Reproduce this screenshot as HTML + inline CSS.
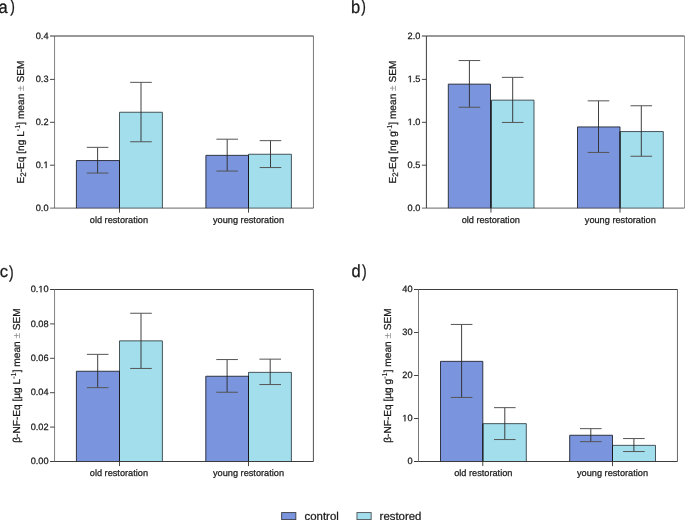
<!DOCTYPE html>
<html><head><meta charset="utf-8"><style>
html,body{margin:0;padding:0;background:#fff;overflow:hidden;}
svg{display:block;will-change:transform;}
text{font-family:"Liberation Sans", sans-serif;fill:#1a1a1a;stroke:#1a1a1a;stroke-width:0.25px;text-rendering:geometricPrecision;}
</style></head><body>
<svg width="685" height="520" viewBox="0 0 685 520">
<rect width="685" height="520" fill="#fff"/>
<rect x="76.40" y="160.55" width="43.10" height="47.65" fill="#7a94de"/>
<rect x="119.50" y="112.25" width="42.90" height="95.95" fill="#a3deed"/>
<path d="M76.40,208.20V160.55H119.50V208.20" fill="none" stroke="#23252f" stroke-width="0.9"/>
<path d="M119.50,208.20V112.25H162.40V208.20" fill="none" stroke="#2e3a3e" stroke-width="0.85"/>
<line x1="119.50" y1="160.55" x2="119.50" y2="208.20" stroke="#111" stroke-width="0.8"/>
<rect x="205.90" y="155.35" width="42.60" height="52.85" fill="#7a94de"/>
<rect x="248.50" y="154.25" width="42.90" height="53.95" fill="#a3deed"/>
<path d="M205.90,208.20V155.35H248.50V208.20" fill="none" stroke="#23252f" stroke-width="0.9"/>
<path d="M248.50,208.20V154.25H291.40V208.20" fill="none" stroke="#2e3a3e" stroke-width="0.85"/>
<line x1="248.50" y1="155.35" x2="248.50" y2="208.20" stroke="#111" stroke-width="0.8"/>
<line x1="97.60" y1="147.35" x2="97.60" y2="173.05" stroke="#2a2a2a" stroke-width="0.9"/>
<path d="M86.80,147.35H108.40M86.80,173.05H108.40" stroke="#555" stroke-width="1"/>
<line x1="141.00" y1="82.35" x2="141.00" y2="141.75" stroke="#2a2a2a" stroke-width="0.9"/>
<path d="M130.20,82.35H151.80M130.20,141.75H151.80" stroke="#555" stroke-width="1"/>
<line x1="227.20" y1="139.20" x2="227.20" y2="171.05" stroke="#2a2a2a" stroke-width="0.9"/>
<path d="M216.40,139.20H238.00M216.40,171.05H238.00" stroke="#555" stroke-width="1"/>
<line x1="270.50" y1="140.65" x2="270.50" y2="167.55" stroke="#2a2a2a" stroke-width="0.9"/>
<path d="M259.70,140.65H281.30M259.70,167.55H281.30" stroke="#555" stroke-width="1"/>
<line x1="54.55" y1="36.0" x2="54.55" y2="208.1" stroke="#333" stroke-width="0.62"/>
<line x1="313.45" y1="36.0" x2="313.45" y2="208.1" stroke="#333" stroke-width="0.66"/>
<line x1="54.55" y1="36.0" x2="313.45" y2="36.0" stroke="#333" stroke-width="1.0"/>
<line x1="54.55" y1="208.1" x2="313.45" y2="208.1" stroke="#333" stroke-width="0.75"/>
<line x1="50.05" y1="208.10" x2="54.55" y2="208.10" stroke="#333" stroke-width="0.75"/>
<text x="35.76" y="210.85" font-size="9.2">0.0</text>
<line x1="50.05" y1="165.20" x2="54.55" y2="165.20" stroke="#333" stroke-width="0.9"/>
<text x="35.76" y="167.95" font-size="9.2">0.</text>
<path transform="translate(43.43,167.95) scale(0.004492,-0.004492)" d="M515,0L515,1237L197,1010L197,1180L530,1409L696,1409L696,0Z" fill="#1a1a1a" stroke="#1a1a1a" stroke-width="55.7"/>
<line x1="50.05" y1="122.30" x2="54.55" y2="122.30" stroke="#333" stroke-width="0.9"/>
<text x="35.76" y="125.05" font-size="9.2">0.2</text>
<line x1="50.05" y1="79.40" x2="54.55" y2="79.40" stroke="#333" stroke-width="0.9"/>
<text x="35.76" y="82.15" font-size="9.2">0.3</text>
<line x1="50.05" y1="36.00" x2="54.55" y2="36.00" stroke="#333" stroke-width="1.0"/>
<text x="35.76" y="38.75" font-size="9.2">0.4</text>
<line x1="119.50" y1="208.1" x2="119.50" y2="212.70" stroke="#333" stroke-width="0.9"/>
<line x1="248.50" y1="208.1" x2="248.50" y2="212.70" stroke="#333" stroke-width="0.9"/>
<text x="118.90" y="222.70" text-anchor="middle" font-size="9.2">old restoration</text>
<text x="248.50" y="222.70" text-anchor="middle" font-size="9.2">young restoration</text>
<text transform="translate(24.2,122.05) rotate(-90)" text-anchor="middle" font-size="10.15">E<tspan font-size="8" dy="2.1">2</tspan><tspan dy="-2.1">-Eq</tspan> [ng L<tspan font-size="7.3" dy="-3.9" stroke-width="0.1">-1</tspan><tspan dy="3.9">] mean </tspan><tspan fill="#8a8a8a" stroke="none">±</tspan> SEM</text>
<rect x="448.30" y="84.15" width="42.20" height="124.05" fill="#7a94de"/>
<rect x="491.40" y="100.15" width="42.60" height="108.05" fill="#a3deed"/>
<path d="M448.30,208.20V84.15H490.50V208.20" fill="none" stroke="#23252f" stroke-width="0.9"/>
<path d="M491.40,208.20V100.15H534.00V208.20" fill="none" stroke="#2e3a3e" stroke-width="0.85"/>
<line x1="490.95" y1="100.15" x2="490.95" y2="208.20" stroke="#111" stroke-width="0.8"/>
<rect x="577.50" y="126.95" width="42.50" height="81.25" fill="#7a94de"/>
<rect x="620.00" y="131.55" width="43.30" height="76.65" fill="#a3deed"/>
<path d="M577.50,208.20V126.95H620.00V208.20" fill="none" stroke="#23252f" stroke-width="0.9"/>
<path d="M620.00,208.20V131.55H663.30V208.20" fill="none" stroke="#2e3a3e" stroke-width="0.85"/>
<line x1="620.00" y1="131.55" x2="620.00" y2="208.20" stroke="#111" stroke-width="0.8"/>
<line x1="469.40" y1="60.55" x2="469.40" y2="107.25" stroke="#2a2a2a" stroke-width="0.9"/>
<path d="M458.60,60.55H480.20M458.60,107.25H480.20" stroke="#555" stroke-width="1"/>
<line x1="512.70" y1="77.35" x2="512.70" y2="122.45" stroke="#2a2a2a" stroke-width="0.9"/>
<path d="M501.90,77.35H523.50M501.90,122.45H523.50" stroke="#555" stroke-width="1"/>
<line x1="598.50" y1="100.85" x2="598.50" y2="152.45" stroke="#2a2a2a" stroke-width="0.9"/>
<path d="M587.70,100.85H609.30M587.70,152.45H609.30" stroke="#555" stroke-width="1"/>
<line x1="641.30" y1="105.75" x2="641.30" y2="156.25" stroke="#2a2a2a" stroke-width="0.9"/>
<path d="M630.50,105.75H652.10M630.50,156.25H652.10" stroke="#555" stroke-width="1"/>
<line x1="426.4" y1="36.0" x2="426.4" y2="208.1" stroke="#333" stroke-width="0.95"/>
<line x1="684.5" y1="36.0" x2="684.5" y2="208.1" stroke="#333" stroke-width="0.5"/>
<line x1="426.4" y1="36.0" x2="684.5" y2="36.0" stroke="#333" stroke-width="1.0"/>
<line x1="426.4" y1="208.1" x2="684.5" y2="208.1" stroke="#333" stroke-width="0.75"/>
<line x1="421.90" y1="208.10" x2="426.40" y2="208.10" stroke="#333" stroke-width="0.75"/>
<text x="407.61" y="210.85" font-size="9.2">0.0</text>
<line x1="421.90" y1="165.20" x2="426.40" y2="165.20" stroke="#333" stroke-width="0.9"/>
<text x="407.61" y="167.95" font-size="9.2">0.5</text>
<line x1="421.90" y1="122.30" x2="426.40" y2="122.30" stroke="#333" stroke-width="0.9"/>
<path transform="translate(407.61,125.05) scale(0.004492,-0.004492)" d="M515,0L515,1237L197,1010L197,1180L530,1409L696,1409L696,0Z" fill="#1a1a1a" stroke="#1a1a1a" stroke-width="55.7"/>
<text x="412.73" y="125.05" font-size="9.2">.0</text>
<line x1="421.90" y1="79.40" x2="426.40" y2="79.40" stroke="#333" stroke-width="0.9"/>
<path transform="translate(407.61,82.15) scale(0.004492,-0.004492)" d="M515,0L515,1237L197,1010L197,1180L530,1409L696,1409L696,0Z" fill="#1a1a1a" stroke="#1a1a1a" stroke-width="55.7"/>
<text x="412.73" y="82.15" font-size="9.2">.5</text>
<line x1="421.90" y1="36.00" x2="426.40" y2="36.00" stroke="#333" stroke-width="1.0"/>
<text x="407.61" y="38.75" font-size="9.2">2.0</text>
<line x1="490.95" y1="208.1" x2="490.95" y2="212.70" stroke="#333" stroke-width="0.9"/>
<line x1="620.00" y1="208.1" x2="620.00" y2="212.70" stroke="#333" stroke-width="0.9"/>
<text x="490.75" y="222.70" text-anchor="middle" font-size="9.2">old restoration</text>
<text x="620.30" y="222.70" text-anchor="middle" font-size="9.2">young restoration</text>
<text transform="translate(395.9,122.05) rotate(-90)" text-anchor="middle" font-size="10.15">E<tspan font-size="8" dy="2.1">2</tspan><tspan dy="-2.1">-Eq</tspan> [ng g<tspan font-size="7.3" dy="-3.9" stroke-width="0.1">-1</tspan><tspan dy="3.9">] mean </tspan><tspan fill="#8a8a8a" stroke="none">±</tspan> SEM</text>
<rect x="76.40" y="371.25" width="43.10" height="90.25" fill="#7a94de"/>
<rect x="119.50" y="340.85" width="42.90" height="120.65" fill="#a3deed"/>
<path d="M76.40,461.50V371.25H119.50V461.50" fill="none" stroke="#23252f" stroke-width="0.9"/>
<path d="M119.50,461.50V340.85H162.40V461.50" fill="none" stroke="#2e3a3e" stroke-width="0.85"/>
<line x1="119.50" y1="371.25" x2="119.50" y2="461.50" stroke="#111" stroke-width="0.8"/>
<rect x="205.80" y="376.25" width="42.70" height="85.25" fill="#7a94de"/>
<rect x="248.50" y="372.35" width="42.90" height="89.15" fill="#a3deed"/>
<path d="M205.80,461.50V376.25H248.50V461.50" fill="none" stroke="#23252f" stroke-width="0.9"/>
<path d="M248.50,461.50V372.35H291.40V461.50" fill="none" stroke="#2e3a3e" stroke-width="0.85"/>
<line x1="248.50" y1="376.25" x2="248.50" y2="461.50" stroke="#111" stroke-width="0.8"/>
<line x1="97.70" y1="354.35" x2="97.70" y2="387.65" stroke="#2a2a2a" stroke-width="0.9"/>
<path d="M86.90,354.35H108.50M86.90,387.65H108.50" stroke="#555" stroke-width="1"/>
<line x1="141.00" y1="313.25" x2="141.00" y2="368.45" stroke="#2a2a2a" stroke-width="0.9"/>
<path d="M130.20,313.25H151.80M130.20,368.45H151.80" stroke="#555" stroke-width="1"/>
<line x1="227.10" y1="359.55" x2="227.10" y2="392.25" stroke="#2a2a2a" stroke-width="0.9"/>
<path d="M216.30,359.55H237.90M216.30,392.25H237.90" stroke="#555" stroke-width="1"/>
<line x1="270.20" y1="359.15" x2="270.20" y2="384.55" stroke="#2a2a2a" stroke-width="0.9"/>
<path d="M259.40,359.15H281.00M259.40,384.55H281.00" stroke="#555" stroke-width="1"/>
<line x1="54.55" y1="289.5" x2="54.55" y2="461.5" stroke="#333" stroke-width="0.62"/>
<line x1="313.4" y1="289.5" x2="313.4" y2="461.5" stroke="#333" stroke-width="0.85"/>
<line x1="54.55" y1="289.5" x2="313.4" y2="289.5" stroke="#333" stroke-width="0.95"/>
<line x1="54.55" y1="461.5" x2="313.4" y2="461.5" stroke="#333" stroke-width="0.95"/>
<line x1="50.05" y1="461.50" x2="54.55" y2="461.50" stroke="#333" stroke-width="0.95"/>
<text x="30.64" y="464.25" font-size="9.2">0.00</text>
<line x1="50.05" y1="427.10" x2="54.55" y2="427.10" stroke="#333" stroke-width="0.9"/>
<text x="30.64" y="429.85" font-size="9.2">0.02</text>
<line x1="50.05" y1="392.70" x2="54.55" y2="392.70" stroke="#333" stroke-width="0.9"/>
<text x="30.64" y="395.45" font-size="9.2">0.04</text>
<line x1="50.05" y1="358.30" x2="54.55" y2="358.30" stroke="#333" stroke-width="0.9"/>
<text x="30.64" y="361.05" font-size="9.2">0.06</text>
<line x1="50.05" y1="323.90" x2="54.55" y2="323.90" stroke="#333" stroke-width="0.9"/>
<text x="30.64" y="326.65" font-size="9.2">0.08</text>
<line x1="50.05" y1="289.50" x2="54.55" y2="289.50" stroke="#333" stroke-width="0.95"/>
<text x="30.64" y="292.25" font-size="9.2">0.</text>
<path transform="translate(38.32,292.25) scale(0.004492,-0.004492)" d="M515,0L515,1237L197,1010L197,1180L530,1409L696,1409L696,0Z" fill="#1a1a1a" stroke="#1a1a1a" stroke-width="55.7"/>
<text x="43.43" y="292.25" font-size="9.2">0</text>
<line x1="119.50" y1="461.5" x2="119.50" y2="466.10" stroke="#333" stroke-width="0.9"/>
<line x1="248.50" y1="461.5" x2="248.50" y2="466.10" stroke="#333" stroke-width="0.9"/>
<text x="118.90" y="475.80" text-anchor="middle" font-size="9.2">old restoration</text>
<text x="248.50" y="475.80" text-anchor="middle" font-size="9.2">young restoration</text>
<text transform="translate(19.6,375.5) rotate(-90)" text-anchor="middle" font-size="10.15">β-NF-Eq [µg L<tspan font-size="7.3" dy="-3.9" stroke-width="0.1">-1</tspan><tspan dy="3.9">] mean </tspan><tspan fill="#8a8a8a" stroke="none">±</tspan> SEM</text>
<rect x="440.50" y="361.35" width="42.30" height="100.15" fill="#7a94de"/>
<rect x="482.80" y="423.65" width="43.50" height="37.85" fill="#a3deed"/>
<path d="M440.50,461.50V361.35H482.80V461.50" fill="none" stroke="#23252f" stroke-width="0.9"/>
<path d="M482.80,461.50V423.65H526.30V461.50" fill="none" stroke="#2e3a3e" stroke-width="0.85"/>
<line x1="482.80" y1="423.65" x2="482.80" y2="461.50" stroke="#111" stroke-width="0.8"/>
<rect x="569.70" y="435.25" width="42.80" height="26.25" fill="#7a94de"/>
<rect x="612.50" y="445.35" width="43.00" height="16.15" fill="#a3deed"/>
<path d="M569.70,461.50V435.25H612.50V461.50" fill="none" stroke="#23252f" stroke-width="0.9"/>
<path d="M612.50,461.50V445.35H655.50V461.50" fill="none" stroke="#2e3a3e" stroke-width="0.85"/>
<line x1="612.50" y1="445.35" x2="612.50" y2="461.50" stroke="#111" stroke-width="0.8"/>
<line x1="461.60" y1="324.45" x2="461.60" y2="397.45" stroke="#2a2a2a" stroke-width="0.9"/>
<path d="M450.80,324.45H472.40M450.80,397.45H472.40" stroke="#555" stroke-width="1"/>
<line x1="504.80" y1="407.65" x2="504.80" y2="439.55" stroke="#2a2a2a" stroke-width="0.9"/>
<path d="M494.00,407.65H515.60M494.00,439.55H515.60" stroke="#555" stroke-width="1"/>
<line x1="590.80" y1="428.65" x2="590.80" y2="441.65" stroke="#2a2a2a" stroke-width="0.9"/>
<path d="M580.00,428.65H601.60M580.00,441.65H601.60" stroke="#555" stroke-width="1"/>
<line x1="633.90" y1="438.55" x2="633.90" y2="451.55" stroke="#2a2a2a" stroke-width="0.9"/>
<path d="M623.10,438.55H644.70M623.10,451.55H644.70" stroke="#555" stroke-width="1"/>
<line x1="418.5" y1="289.5" x2="418.5" y2="461.5" stroke="#333" stroke-width="0.65"/>
<line x1="677.45" y1="289.5" x2="677.45" y2="461.5" stroke="#333" stroke-width="0.75"/>
<line x1="418.5" y1="289.5" x2="677.45" y2="289.5" stroke="#333" stroke-width="0.95"/>
<line x1="418.5" y1="461.5" x2="677.45" y2="461.5" stroke="#333" stroke-width="0.95"/>
<line x1="414.00" y1="461.50" x2="418.50" y2="461.50" stroke="#333" stroke-width="0.95"/>
<text x="407.38" y="464.25" font-size="9.2">0</text>
<line x1="414.00" y1="418.50" x2="418.50" y2="418.50" stroke="#333" stroke-width="0.9"/>
<path transform="translate(402.27,421.25) scale(0.004492,-0.004492)" d="M515,0L515,1237L197,1010L197,1180L530,1409L696,1409L696,0Z" fill="#1a1a1a" stroke="#1a1a1a" stroke-width="55.7"/>
<text x="407.38" y="421.25" font-size="9.2">0</text>
<line x1="414.00" y1="375.50" x2="418.50" y2="375.50" stroke="#333" stroke-width="0.9"/>
<text x="402.27" y="378.25" font-size="9.2">20</text>
<line x1="414.00" y1="332.50" x2="418.50" y2="332.50" stroke="#333" stroke-width="0.9"/>
<text x="402.27" y="335.25" font-size="9.2">30</text>
<line x1="414.00" y1="289.50" x2="418.50" y2="289.50" stroke="#333" stroke-width="0.95"/>
<text x="402.27" y="292.25" font-size="9.2">40</text>
<line x1="482.80" y1="461.5" x2="482.80" y2="466.10" stroke="#333" stroke-width="0.9"/>
<line x1="612.50" y1="461.5" x2="612.50" y2="466.10" stroke="#333" stroke-width="0.9"/>
<text x="483.30" y="475.80" text-anchor="middle" font-size="9.2">old restoration</text>
<text x="612.50" y="475.80" text-anchor="middle" font-size="9.2">young restoration</text>
<text transform="translate(391.0,375.5) rotate(-90)" text-anchor="middle" font-size="10.15">β-NF-Eq [µg g<tspan font-size="7.3" dy="-3.9" stroke-width="0.1">-1</tspan><tspan dy="3.9">] mean </tspan><tspan fill="#8a8a8a" stroke="none">±</tspan> SEM</text>
<text transform="translate(-1.47,13.05) scale(1,1.07)" font-size="16.5">a</text>
<text transform="translate(10.15,12.2) scale(0.82,1.02)" font-size="17">)</text>
<text transform="translate(351.1,13.05) scale(1,1.07)" font-size="16.5">b</text>
<text transform="translate(361.25,12.2) scale(0.82,1.02)" font-size="17">)</text>
<text transform="translate(-0.22,277.3) scale(1,1.02)" font-size="16.5">c</text>
<text transform="translate(9.05,277.68) scale(0.82,1.02)" font-size="17">)</text>
<text transform="translate(351.6,277.4) scale(1,1.07)" font-size="16.5">d</text>
<text transform="translate(362.05,277.43) scale(0.82,1.02)" font-size="17">)</text>
<rect x="281.65" y="512.6" width="14.2" height="7" fill="#7a94de" stroke="#3a3c44" stroke-width="0.9"/>
<text x="304.6" y="519.6" font-size="11.4">control</text>
<rect x="356.95" y="512.6" width="14.2" height="7" fill="#a3deed" stroke="#4a5054" stroke-width="0.9"/>
<text x="379.6" y="519.6" font-size="11.4">restored</text>
</svg>
</body></html>
